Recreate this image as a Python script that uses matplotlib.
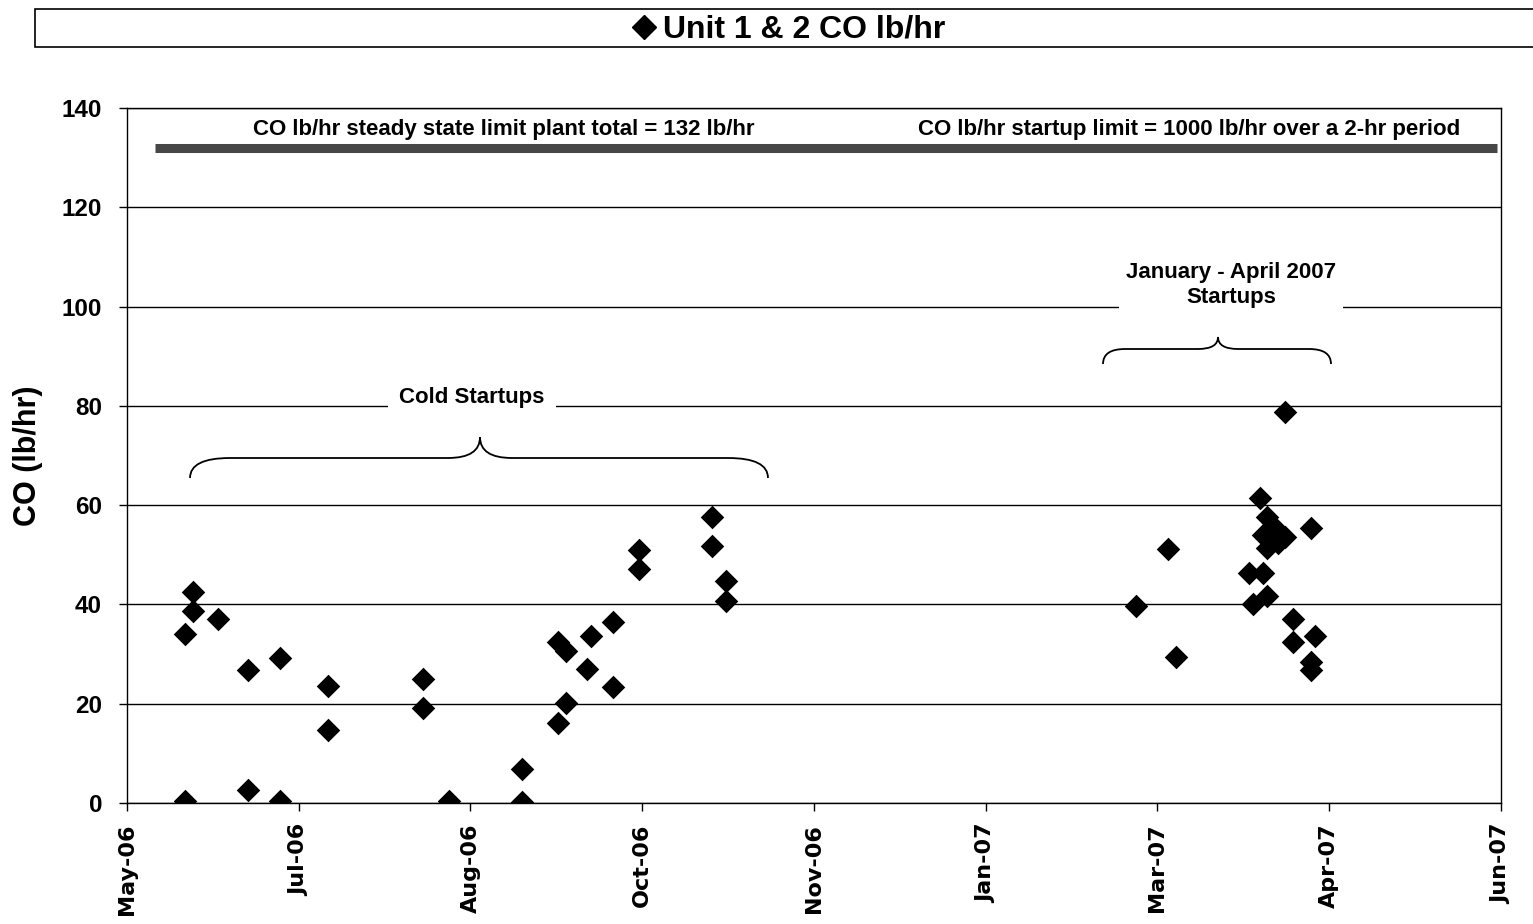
import matplotlib
matplotlib.use("Agg")
import matplotlib.pyplot as plt
import matplotlib.dates as mdates
from matplotlib.path import Path
from matplotlib.patches import PathPatch, Rectangle
from matplotlib.lines import Line2D
import datetime as dt

# ---------------- data ----------------
dates = [
    "2006-06-09", "2006-06-09", "2006-06-11", "2006-06-11", "2006-06-18",
    "2006-06-26", "2006-06-26", "2006-07-05", "2006-07-05", "2006-07-18",
    "2006-07-18", "2006-08-13", "2006-08-13", "2006-08-20", "2006-09-09",
    "2006-09-09", "2006-09-19", "2006-09-19", "2006-09-21", "2006-09-21",
    "2006-09-27", "2006-09-28", "2006-10-04", "2006-10-04", "2006-10-11",
    "2006-10-11", "2006-10-31", "2006-10-31", "2006-11-04", "2006-11-04",
    "2007-02-24", "2007-03-05", "2007-03-07", "2007-03-27", "2007-03-28",
    "2007-03-30", "2007-03-31", "2007-03-31", "2007-04-01", "2007-04-01",
    "2007-04-01", "2007-04-03", "2007-04-04", "2007-04-06", "2007-04-06",
    "2007-04-08", "2007-04-08", "2007-04-13", "2007-04-13", "2007-04-13",
    "2007-04-14",
]
co_lbhr = [
    34.0, 0.4, 42.6, 38.7, 37.1,
    26.8, 2.6, 29.2, 0.4, 23.6,
    14.7, 25.0, 19.1, 0.4, 6.8,
    0.2, 16.1, 32.4, 30.6, 20.1,
    27.0, 33.6, 36.5, 23.4, 51.0,
    47.1, 57.6, 51.8, 44.7, 40.7,
    39.7, 51.2, 29.4, 46.3, 40.1,
    61.4, 46.3, 54.0, 41.7, 51.4,
    57.6, 55.6, 52.4, 53.6, 78.8,
    37.1, 32.4, 55.4, 28.4, 26.8,
    33.6,
]
series_label = "Unit 1 & 2 CO lb/hr"
limit_value = 132
limit_text_left = "CO lb/hr steady state limit plant total = 132 lb/hr"
limit_text_right = "CO lb/hr startup limit = 1000 lb/hr over a 2-hr period"
axis_start = "2006-05-24"
tick_step_days = 47
n_ticks = 9
y_ticks = [0, 20, 40, 60, 80, 100, 120, 140]

# ---------------- figure ----------------
fig = plt.figure(figsize=(15.33, 9.24), dpi=100)
ax = fig.add_axes([127/1533, 1 - 803/924, 1374/1533, 695/924])

x = mdates.date2num([dt.datetime.strptime(d, "%Y-%m-%d") for d in dates])
start = mdates.date2num(dt.datetime.strptime(axis_start, "%Y-%m-%d"))
xticks = [start + k * tick_step_days for k in range(n_ticks)]

ax.scatter(x, co_lbhr, marker="D", s=12**2, color="black", zorder=5,
           linewidths=0, label=series_label)

ax.set_xlim(xticks[0], xticks[-1])
ax.set_ylim(0, 140)
ax.set_xticks(xticks)
ax.xaxis.set_major_formatter(mdates.DateFormatter("%b-%y"))
ax.set_yticks(y_ticks)

for lab in ax.get_xticklabels():
    lab.set_rotation(90)
    lab.set_fontfamily("DejaVu Sans")
    lab.set_fontweight("bold")
    lab.set_fontsize(16)
for lab in ax.get_yticklabels():
    lab.set_fontfamily("Liberation Sans")
    lab.set_fontweight("bold")
    lab.set_fontsize(17.5)

ax.tick_params(axis="both", direction="out", length=6, width=1, color="black")
ax.tick_params(axis="y", pad=12)
ax.tick_params(axis="x", pad=9)
ax.yaxis.grid(True, color="black", linewidth=1.0, zorder=0)
ax.set_axisbelow(True)
for sp in ax.spines.values():
    sp.set_color("black")
    sp.set_linewidth(1.0)

ax.set_ylabel("CO (lb/hr)", fontfamily="Liberation Sans", fontweight="bold",
              fontsize=22)
ax.yaxis.set_label_coords((43 - 127) / 1374, 0.5)

# limit band
xr = xticks[-1] - xticks[0]
ax.axhline(limit_value, xmin=28/1374, xmax=1370/1374, color="#474747",
           linewidth=6.5, zorder=3, solid_capstyle="butt")

def px2x(px):
    return start + xr * (px - 127) / 1374

def py2y(py):
    return (803 - py) * 140 / 695

ax.text(px2x(504), py2y(130), limit_text_left,
        ha="center", va="center", fontfamily="Liberation Sans",
        fontweight="bold", fontsize=16, zorder=4)
ax.text(px2x(1189), py2y(130), limit_text_right,
        ha="center", va="center", fontfamily="Liberation Sans",
        fontweight="bold", fontsize=16, zorder=4)

# annotations with white background (break gridlines)
ax.text(px2x(472), py2y(398), "Cold Startups", ha="center", va="center",
        fontfamily="Liberation Sans", fontweight="bold", fontsize=16,
        zorder=4, bbox=dict(facecolor="white", edgecolor="none", pad=8))
ax.text(px2x(1231), py2y(285), "January - April 2007\nStartups", ha="center",
        va="center", fontfamily="Liberation Sans", fontweight="bold",
        fontsize=16, linespacing=1.3, zorder=4,
        bbox=dict(facecolor="white", edgecolor="none", pad=5))

def brace(x0, x1, xm, y_end, y_mid, y_tip, r_end, r_tip):
    verts = [
        (x0, y_end), (x0, y_mid), (x0 + r_end, y_mid),
        (xm - r_tip, y_mid),
        (xm, y_mid), (xm, y_tip),
        (xm, y_mid), (xm + r_tip, y_mid),
        (x1 - r_end, y_mid),
        (x1, y_mid), (x1, y_end),
    ]
    codes = [Path.MOVETO, Path.CURVE3, Path.CURVE3, Path.LINETO,
             Path.CURVE3, Path.CURVE3, Path.CURVE3, Path.CURVE3,
             Path.LINETO, Path.CURVE3, Path.CURVE3]
    return PathPatch(Path(verts, codes), facecolor="none", edgecolor="black",
                     linewidth=1.3, zorder=4)

dpx = xr / 1374
ax.add_patch(brace(px2x(190), px2x(768), px2x(480), py2y(478), py2y(458),
                   py2y(437), 40 * dpx, 32 * dpx))
ax.add_patch(brace(px2x(1103), px2x(1331), px2x(1218), py2y(364), py2y(349),
                   py2y(337), 22 * dpx, 20 * dpx))

# legend box at top
fig.patches.append(Rectangle((35/1533, 1 - 47/924), 1.0, 38/924,
                             transform=fig.transFigure, facecolor="white",
                             edgecolor="black", linewidth=1.2))
handle = Line2D([], [], marker="D", color="black", linestyle="none",
                markersize=12)
fig.legend([handle], [series_label], loc="center",
           bbox_to_anchor=(787/1533, 1 - 30/924),
           frameon=False, handletextpad=0.1, handlelength=1.0,
           prop=dict(family="Liberation Sans", weight="bold", size=23))

fig.savefig("out.png", dpi=100)
